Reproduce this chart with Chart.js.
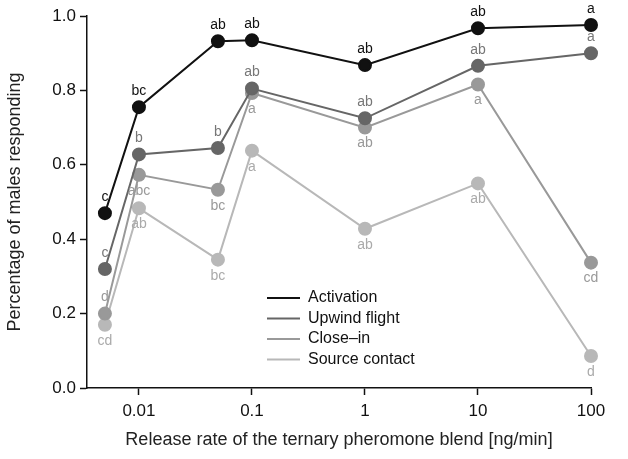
<!DOCTYPE html>
<html lang="en">
<head>
<meta charset="UTF-8">
<script src="https://cdn.jsdelivr.net/npm/chart.js"></script>
<style>
  body, html { margin: 0; padding: 0; background: white; }
  #wrap { width: 628px; height: 459px; }
</style>
</head>
<body>
<div id="wrap"><canvas id="c"></canvas></div>
<script>
  // Data
  const rates = [0.005, 0.01, 0.05, 0.1, 1, 10, 100];
  const xTicks = [0.01, 0.1, 1, 10, 100];
  const yTicks = [0, 0.2, 0.4, 0.6, 0.8, 1.0];
  const seriesNames = ["Activation", "Upwind flight", "Close\u2013in", "Source contact"];
  const activation = [0.47, 0.755, 0.932, 0.935, 0.868, 0.967, 0.976];
  const upwind = [0.32, 0.628, 0.645, 0.805, 0.725, 0.866, 0.90];
  const closeIn = [0.20, 0.573, 0.533, 0.793, 0.70, 0.816, 0.337];
  const source = [0.17, 0.483, 0.345, 0.638, 0.428, 0.55, 0.086];
  const lettersAct = ["c", "bc", "ab", "ab", "ab", "ab", "a"];
  const lettersUp = ["c", "b", "b", "ab", "ab", "ab", "a"];
  const lettersClose = ["d", "abc", "bc", "a", "ab", "a", "cd"];
  const lettersSrc = ["cd", "ab", "bc", "a", "ab", "ab", "d"];
  // +1 = above the point, -1 = below
  const sideAct = [1, 1, 1, 1, 1, 1, 1];
  const sideUp = [1, 1, 1, 1, 1, 1, 1];
  const sideClose = [1, -1, -1, -1, -1, -1, -1];
  const sideSrc = [-1, -1, -1, -1, -1, -1, -1];

  const colors = ["#111111", "#666666", "#999999", "#b8b8b8"];
  const textColors = ["#111111", "#777777", "#999999", "#aaaaaa"];
  const allValues = [activation, upwind, closeIn, source];
  const allLetters = [lettersAct, lettersUp, lettersClose, lettersSrc];
  const allSides = [sideAct, sideUp, sideClose, sideSrc];

  const FONT = "'Liberation Sans', Arial, sans-serif";

  const datasets = allValues.map((vals, i) => ({
    label: seriesNames[i],
    data: rates.map((r, j) => ({ x: r, y: vals[j] })),
    borderColor: colors[i],
    backgroundColor: colors[i],
    borderWidth: 2,
    pointRadius: 6,
    pointHoverRadius: 6,
    tension: 0,
    clip: false
  }));

  // letters next to points + legend inside the plot
  const extras = {
    id: 'extras',
    afterDatasetsDraw(chart) {
      const ctx = chart.ctx;
      ctx.save();
      ctx.font = "14px " + FONT;
      ctx.textAlign = 'center';
      for (let i = 0; i < allValues.length; i++) {
        const meta = chart.getDatasetMeta(i);
        ctx.fillStyle = textColors[i];
        meta.data.forEach((pt, j) => {
          const s = allSides[i][j];
          ctx.textBaseline = s > 0 ? 'bottom' : 'top';
          ctx.fillText(allLetters[i][j], pt.x, pt.y - s * 9);
        });
      }
      // legend
      ctx.font = "16px " + FONT;
      ctx.textAlign = 'left';
      ctx.textBaseline = 'middle';
      seriesNames.forEach((n, i) => {
        const y = 298 + i * 20.5;
        ctx.strokeStyle = colors[i];
        ctx.lineWidth = 2;
        ctx.beginPath();
        ctx.moveTo(267, y);
        ctx.lineTo(300, y);
        ctx.stroke();
        ctx.fillStyle = '#111';
        ctx.fillText(n, 308, y);
      });
      ctx.restore();
    }
  };

  new Chart(document.getElementById('c'), {
    type: 'line',
    data: { datasets: datasets },
    options: {
      responsive: true,
      maintainAspectRatio: false,
      animation: false,
      layout: { padding: { left: 0, right: 37, top: 16, bottom: 4 } },
      plugins: { legend: { display: false }, tooltip: { enabled: false } },
      scales: {
        x: {
          type: 'logarithmic',
          min: 0.00347,
          max: 100,
          afterBuildTicks: s => { s.ticks = xTicks.map(v => ({ value: v })); },
          afterFit: s => { s.height = 67; },
          ticks: { color: '#111', font: { size: 17, family: FONT }, padding: 6, maxRotation: 0,
                   callback: v => String(v) },
          grid: { drawOnChartArea: false, color: '#111', tickLength: 7, tickWidth: 1.5 },
          border: { color: '#111', width: 1.5 },
          title: { display: true, text: 'Release rate of the ternary pheromone blend [ng/min]',
                   color: '#222', font: { size: 18, family: FONT }, padding: { top: 12 } }
        },
        y: {
          min: 0,
          max: 1,
          afterBuildTicks: s => { s.ticks = yTicks.map(v => ({ value: v })); },
          afterFit: s => { s.width = 87; },
          ticks: { color: '#111', font: { size: 17, family: FONT }, padding: 4,
                   callback: v => v.toFixed(1) },
          grid: { drawOnChartArea: false, color: '#111', tickLength: 7, tickWidth: 1.5 },
          border: { color: '#111', width: 1.5 },
          title: { display: true, text: 'Percentage of males responding',
                   color: '#222', font: { size: 18, family: FONT }, padding: { bottom: 2 } }
        }
      }
    },
    plugins: [extras]
  });
</script>
</body>
</html>
